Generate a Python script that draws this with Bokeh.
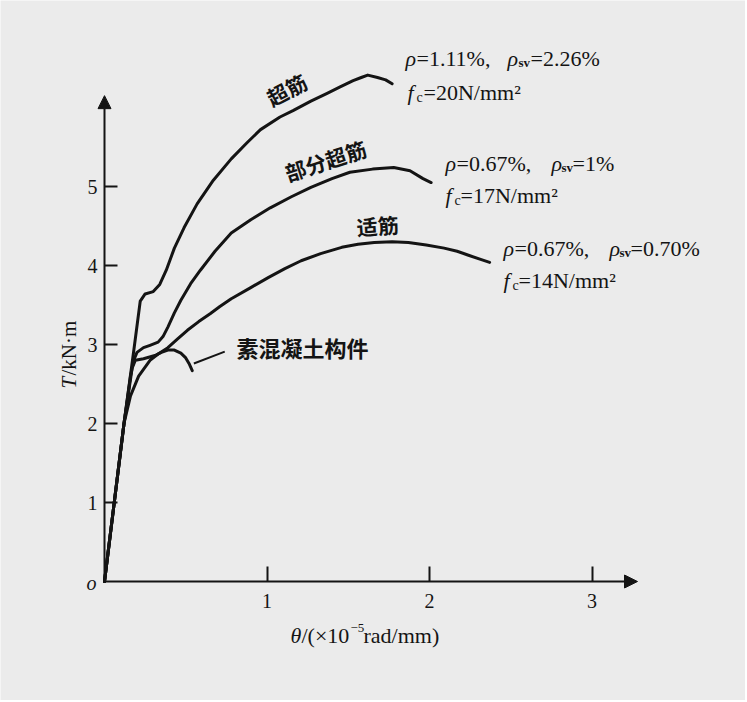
import math
from bokeh.plotting import figure
from bokeh.models import Range1d, FixedTicker, Label, Arrow, NormalHead
from bokeh.embed import file_html
from bokeh.resources import INLINE

# ---- data (theta in 1e-5 rad/mm, T in kN*m) ----
over_x = [0, 0.12, 0.18, 0.22, 0.25, 0.30, 0.34, 0.38, 0.43, 0.49, 0.57, 0.67, 0.78, 0.88, 0.96,
          1.08, 1.16, 1.27, 1.37, 1.45, 1.53, 1.58, 1.62, 1.68, 1.73, 1.77]
over_y = [0, 2.00, 2.92, 3.55, 3.64, 3.67, 3.76, 3.94, 4.22, 4.48, 4.78, 5.08, 5.35, 5.56, 5.72,
          5.88, 5.96, 6.08, 6.18, 6.26, 6.34, 6.38, 6.41, 6.38, 6.35, 6.30]

part_x = [0, 0.12, 0.16, 0.18, 0.20, 0.24, 0.28, 0.33, 0.36, 0.39, 0.43, 0.47, 0.53, 0.59, 0.68,
          0.78, 0.90, 1.02, 1.15, 1.27, 1.40, 1.51, 1.65, 1.78, 1.88, 1.96, 2.01]
part_y = [0, 2.00, 2.60, 2.80, 2.90, 2.96, 2.99, 3.03, 3.10, 3.22, 3.40, 3.56, 3.77, 3.94, 4.18,
          4.41, 4.58, 4.73, 4.87, 4.99, 5.10, 5.18, 5.22, 5.24, 5.20, 5.10, 5.05]

under_x = [0, 0.12, 0.16, 0.21, 0.28, 0.33, 0.39, 0.45, 0.51, 0.58, 0.65, 0.71, 0.78, 0.90, 1.01,
           1.11, 1.21, 1.33, 1.46, 1.56, 1.66, 1.77, 1.87, 1.98, 2.09, 2.17, 2.24, 2.31, 2.37]
under_y = [0, 2.00, 2.35, 2.60, 2.80, 2.88, 2.96, 3.07, 3.18, 3.29, 3.39, 3.48, 3.58, 3.72, 3.85,
           3.96, 4.06, 4.15, 4.23, 4.27, 4.29, 4.30, 4.29, 4.26, 4.22, 4.18, 4.13, 4.08, 4.04]

plain_x = [0, 0.12, 0.17, 0.19, 0.24, 0.31, 0.35, 0.39, 0.43, 0.47, 0.50, 0.52, 0.54]
plain_y = [0, 2.00, 2.70, 2.80, 2.82, 2.86, 2.90, 2.93, 2.93, 2.89, 2.83, 2.76, 2.67]

x_ticks = [1, 2, 3]
y_ticks = [1, 2, 3, 4, 5]

INK = "#141414"
BG = "#ebebeb"
SERIF = "Liberation Serif"
CJK = "Noto Sans CJK SC"

W, H = 745, 700
OX, OY = 104, 581          # where the origin sits on the canvas
SX, SY = 162.5, 79.0       # pixels per unit

p = figure(width=W, height=H, output_backend="svg", toolbar_location=None,
           x_range=Range1d(-OX / SX, (W - OX) / SX),
           y_range=Range1d(-(H - OY) / SY, OY / SY),
           min_border=0, min_border_left=0, min_border_right=0,
           min_border_top=0, min_border_bottom=0)
p.background_fill_color = BG
p.border_fill_color = BG
p.outline_line_color = None
p.grid.visible = False

for ax, ticks in ((p.xaxis, x_ticks), (p.yaxis, y_ticks)):
    ax.fixed_location = 0
    ax.ticker = FixedTicker(ticks=ticks)
    ax.axis_line_color = None
    ax.major_tick_out = 0
    ax.minor_tick_line_color = None
    ax.major_tick_line_color = INK
    ax.major_tick_line_width = 2
    ax.major_label_text_font = SERIF
    ax.major_label_text_font_size = "20px"
    ax.major_label_text_color = INK
p.xaxis.major_tick_in = 15
p.yaxis.major_tick_in = 13
p.xaxis.major_label_standoff = 12
p.yaxis.major_label_standoff = 7

# axes with arrows
p.add_layout(Arrow(x_start=0, y_start=0, x_end=0, y_end=6.15, line_width=2, line_color=INK,
                   end=NormalHead(size=13, fill_color=INK, line_color=INK)))
p.add_layout(Arrow(x_start=0, y_start=0, x_end=3.28, y_end=0, line_width=2, line_color=INK,
                   end=NormalHead(size=13, fill_color=INK, line_color=INK)))

for xs, ys in ((over_x, over_y), (part_x, part_y), (under_x, under_y), (plain_x, plain_y)):
    p.line(xs, ys, line_width=3, line_color=INK, line_join="round", line_cap="round")

# leader line for the plain-concrete label
p.segment(x0=[0.55], y0=[2.76], x1=[0.74], y1=[2.91], line_width=2, line_color=INK)

def px2x(sx):
    return (sx - OX) / SX

def px2y(sy):
    return (OY - sy) / SY

def txt(sx, sy, s, size=22, style="normal", font=SERIF, angle=0.0, align="left"):
    p.add_layout(Label(x=px2x(sx), y=px2y(sy), text=s, text_font=font,
                       text_font_size=f"{size}px", text_font_style=style,
                       text_align=align, text_baseline="middle",
                       angle=math.radians(angle), text_color=INK))

# origin label
txt(96, 582, "o", size=20, style="italic", align="right")

# curve names
txt(286, 89, "超筋", size=21, font=CJK, style="bold", angle=28, align="center")
txt(325, 160, "部分超筋", size=21, font=CJK, style="bold", angle=18, align="center")
txt(377, 225, "适筋", size=21, font=CJK, style="bold", angle=4, align="center")
txt(302, 346, "素混凝土构件", size=22, font=CJK, style="bold", align="center")

# parameter annotations
def rho_line(x0, x_eq, x_rho2, x_sub, x_eq2, sy, first, second):
    txt(x0, sy, "ρ", style="italic")
    txt(x_eq, sy, first)
    txt(x_rho2, sy, "ρ", style="italic")
    txt(x_sub, sy + 4, "sv", size=13, style="bold")
    txt(x_eq2, sy, second)

def fc_line(x0, x_sub, x_eq, sy, rest):
    txt(x0, sy, "f", style="italic")
    txt(x_sub, sy + 5, "c", size=14)
    txt(x_eq, sy, rest)

rho_line(405, 416, 507, 518, 530, 58, "=1.11%,", "=2.26%")
fc_line(407, 416, 423, 92, "=20N/mm²")
rho_line(445, 456, 551, 561, 572, 163, "=0.67%,", "=1%")
fc_line(445, 454, 460, 195, "=17N/mm²")
rho_line(503, 514, 609, 619, 630, 248, "=0.67%,", "=0.70%")
fc_line(503, 512, 518, 280, "=14N/mm²")

# axis titles
txt(68, 388, "T", size=21, style="italic", angle=90)
txt(68, 375, "/kN·m", size=21, angle=90)
txt(290, 635, "θ", size=22, style="italic")
txt(301, 635, "/(×10", size=22)
txt(350, 627, "−5", size=13)
txt(363, 635, "rad/mm)", size=22)

open("out.html", "w").write(file_html(p, INLINE))
